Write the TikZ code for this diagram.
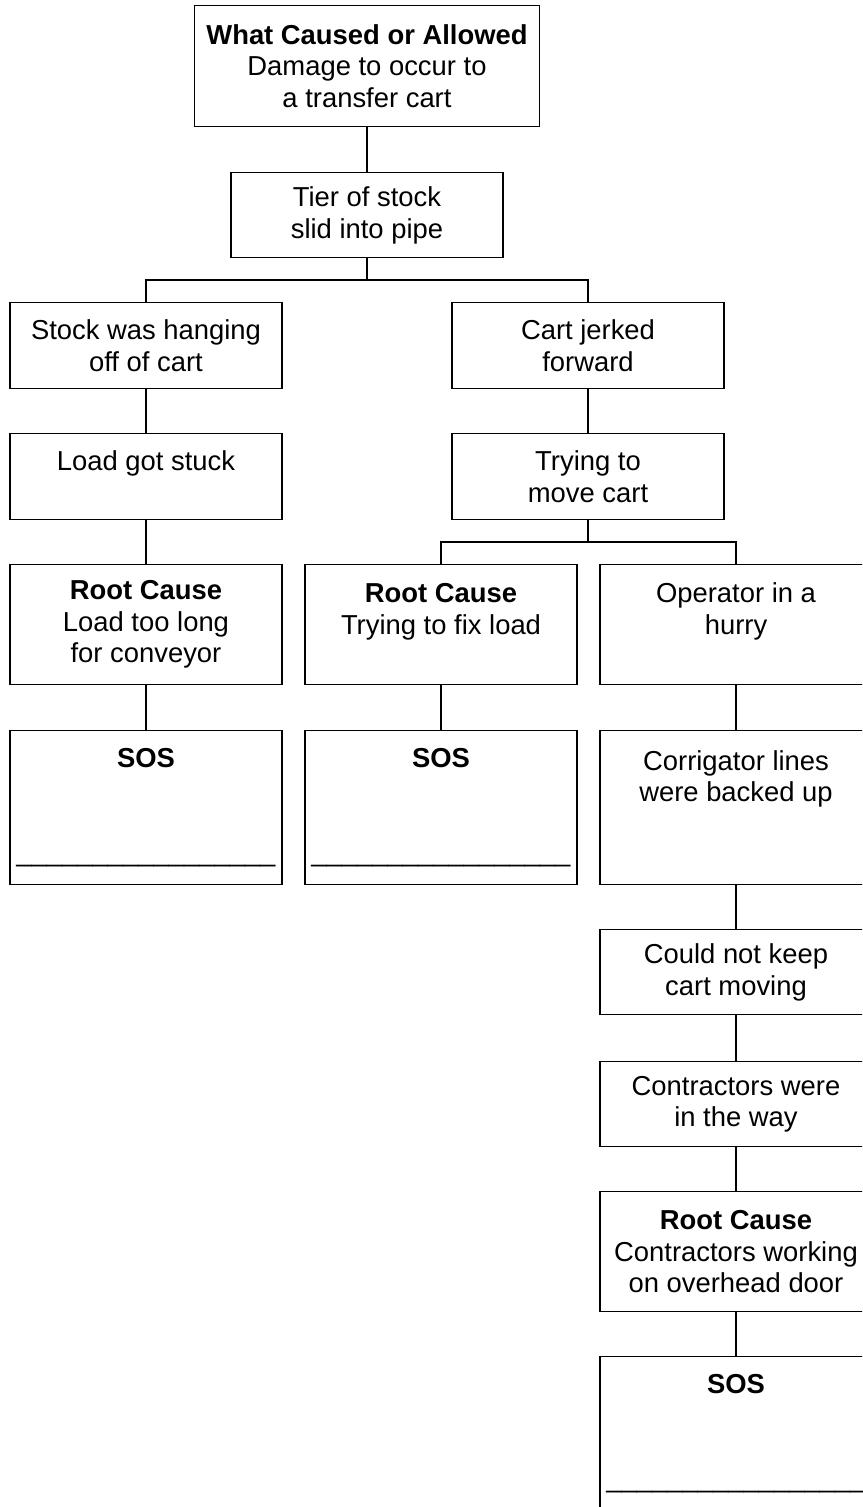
\documentclass[tikz,border=0pt]{standalone}
\usepackage{fontspec}
\setmainfont{Liberation Sans}

\begin{document}
\begin{tikzpicture}[x=1pt,y=-1pt,
  box/.style={shape=rectangle,draw=black,align=center,line width=1.3pt,anchor=north,minimum width=272pt,inner sep=4pt,font=\fontsize{27.4}{31.6}\selectfont},
  link/.style={draw=black,line width=1.3pt}]
\clip (0,0) rectangle (862,1507);
\node[box,minimum width=345pt,minimum height=121pt] (0) at (367,5) {\textbf{What Caused or Allowed}\\Damage to occur to\\a transfer cart};
\node[box,minimum height=85pt] (1) at (367,172) {Tier of stock\\slid into pipe};
\node[box,minimum height=86pt] (2) at (146,302) {Stock was hanging\\off of cart};
\node[box,minimum height=86pt] (3) at (588,302) {Cart jerked\\forward};
\node[box,minimum height=86pt] (4) at (146,433) {Load got stuck\\~};
\node[box,minimum height=86pt] (5) at (588,433) {Trying to\\move cart};
\node[box,minimum height=120pt] (6) at (146,564) {\textbf{Root Cause}\\Load too long\\for conveyor};
\node[box,minimum height=120pt] (7) at (441,564) {\textbf{Root Cause}\\Trying to fix load\\~};
\node[box,minimum height=120pt] (8) at (736,564) {Operator in a\\hurry\\~};
\node[box,minimum height=154pt] (9) at (146,730) {\textbf{SOS}\\~\\~\\\_\_\_\_\_\_\_\_\_\_\_\_\_\_\_\_\_};
\node[box,minimum height=154pt] (10) at (441,730) {\textbf{SOS}\\~\\~\\\_\_\_\_\_\_\_\_\_\_\_\_\_\_\_\_\_};
\node[box,minimum height=154pt] (11) at (736,730) {Corrigator lines\\were backed up\\~\\~};
\node[box,minimum height=85pt] (12) at (736,929) {Could not keep\\cart moving};
\node[box,minimum height=85pt] (13) at (736,1061) {Contractors were\\in the way};
\node[box,minimum height=120pt] (14) at (736,1191) {\textbf{Root Cause}\\Contractors working\\on overhead door};
\node[box,minimum height=154pt] (15) at (736,1356) {\textbf{SOS}\\~\\~\\\_\_\_\_\_\_\_\_\_\_\_\_\_\_\_\_\_};

\coordinate (j1) at (367,280);
\coordinate (j2) at (588,542);

\draw[link] (0) -- (1);
\draw[link] (1) -- (j1);
\draw[link] (2.north) |- (j1) -| (3.north);
\draw[link] (2) -- (4);
\draw[link] (4) -- (6);
\draw[link] (6) -- (9);
\draw[link] (3) -- (5);
\draw[link] (5) -- (j2);
\draw[link] (7.north) |- (j2) -| (8.north);
\draw[link] (7) -- (10);
\draw[link] (8) -- (11);
\draw[link] (11) -- (12);
\draw[link] (12) -- (13);
\draw[link] (13) -- (14);
\draw[link] (14) -- (15);

\end{tikzpicture}
\end{document}
